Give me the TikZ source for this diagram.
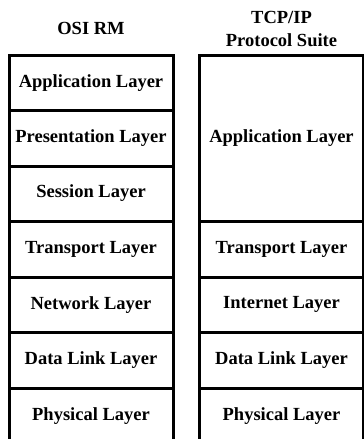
\documentclass[tikz,border=0pt]{standalone}
\usepackage{fontspec}
\setmainfont{Liberation Serif}
\usetikzlibrary{positioning}

\tikzset{
    layer/.style={draw, line width=3pt, outer sep=0pt, inner sep=0pt,
        minimum width=\colWidth, minimum height=\rowHeight,
        font=\fontsize{18.5}{22}\selectfont\bfseries},
    heading/.style={align=center, font=\fontsize{18.5}{23}\selectfont\bfseries}
}

\begin{document}
\begin{tikzpicture}[x=1pt, y=-1pt]
    % variables
    \def\colWidth{164pt}
    \def\rowHeight{55.5pt}
    \def\osiX{91}     % centre of the OSI column
    \def\tcpX{281.5}  % centre of the TCP/IP column
    \def\topY{55}     % upper edge of both columns

    \useasboundingbox (0, 0) rectangle (364, 439);

    % Column headings
    \node[heading] (osiTitle) at (\osiX, 28) {OSI RM};
    \node[heading] (tcpTitle) at (\tcpX, 28.5) {TCP/IP\\Protocol Suite};

    % OSI reference model
    \node[layer, anchor=north] (osiApp) at (\osiX, \topY) {Application Layer};
    \node[layer, below=0pt of osiApp] (osiPres) {Presentation Layer};
    \node[layer, below=0pt of osiPres] (osiSess) {\raisebox{5pt}{Session Layer}};
    \node[layer, below=0pt of osiSess] (osiTrans) {Transport Layer};
    \node[layer, below=0pt of osiTrans] (osiNet) {Network Layer};
    \node[layer, below=0pt of osiNet] (osiLink) {Data Link Layer};
    \node[layer, below=0pt of osiLink] (osiPhy) {Physical Layer};

    % TCP/IP protocol suite
    \node[layer, anchor=north, minimum height=3*\rowHeight] (tcpApp) at (\tcpX, \topY) {Application Layer};
    \node[layer, below=0pt of tcpApp] (tcpTrans) {Transport Layer};
    \node[layer, below=0pt of tcpTrans] (tcpNet) {Internet Layer};
    \node[layer, below=0pt of tcpNet] (tcpLink) {Data Link Layer};
    \node[layer, below=0pt of tcpLink] (tcpPhy) {Physical Layer};

\end{tikzpicture}
\end{document}
